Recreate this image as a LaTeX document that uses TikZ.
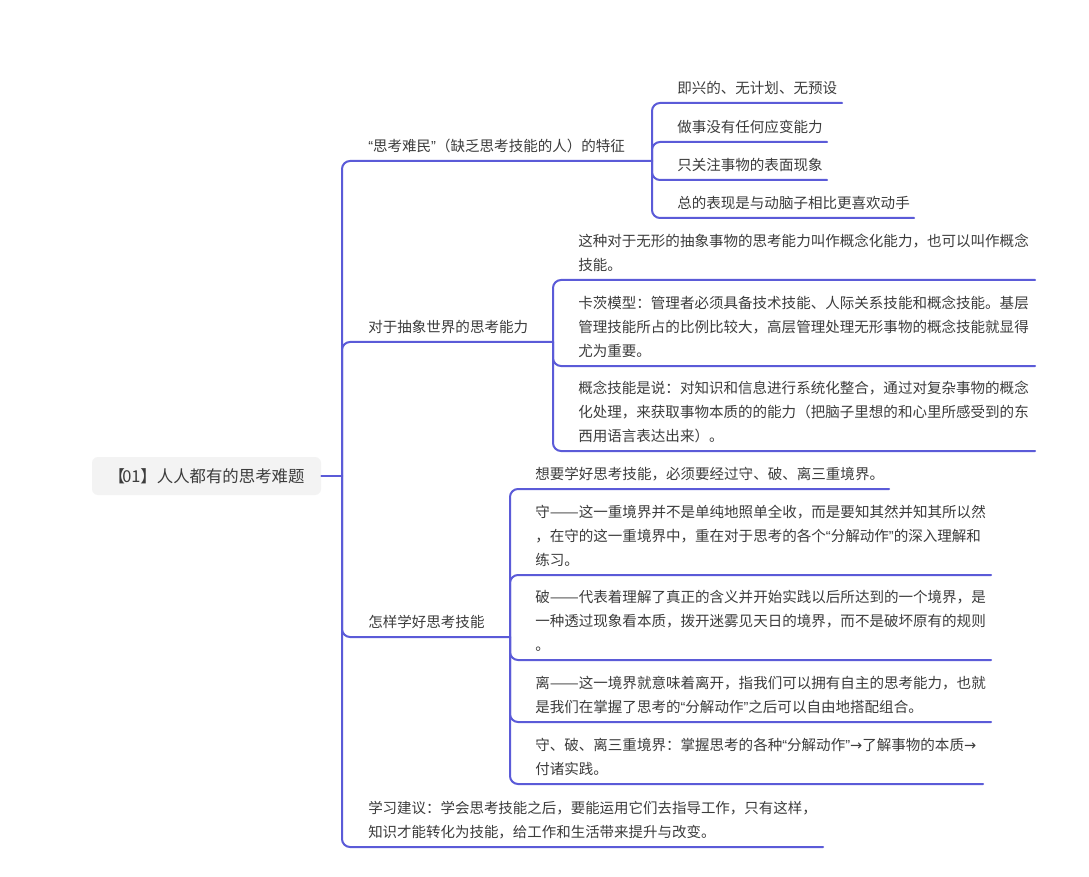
\documentclass[tikz,border=0pt]{standalone}
\usepackage{graphicx}
\usepackage{fontspec}
\setmainfont{Noto Sans CJK SC}
\newfontfamily\lat{Liberation Sans}
\newfontfamily\sym{DejaVu Sans}
\newcommand{\qo}{{\lat “}}
\newcommand{\qc}{{\lat ”}}
\newcommand{\arr}{{\sym →}}
\newcommand{\dashes}{\makebox[2em]{\scalebox{1.19}[1]{——}}}
\newcommand{\deep}{\rule[-7pt]{0pt}{0pt}}
\definecolor{linec}{HTML}{5B5BD8}
\definecolor{textc}{HTML}{3C3C3C}
\definecolor{rootfill}{HTML}{F3F3F3}
\tikzset{
  x=0.75pt,y=-0.75pt,
  leaftext/.style={anchor=south west,inner sep=0pt,align=left,text=textc,font=\fontsize{10.9}{18}\selectfont},
  smalltext/.style={leaftext,font=\fontsize{10.85}{18}\selectfont},
  rootnode/.style={fill=rootfill,rounded corners=4.5pt,minimum width=171.75pt,minimum height=28.5pt,inner sep=0pt,text=textc,font=\fontsize{12.3}{16}\selectfont},
  conn/.style={draw=linec,line width=1.5pt,rounded corners=6pt,line cap=round},
}
% \leaf[style]{name}{from}{text x}{y}{end x}{text}
\newcommand{\leaf}[7][leaftext]{%
  \node[#1] (#2) at (#4,#5) {#7\deep};
  \coordinate (#2-e) at (#6,#5);
  \draw[conn] (#3) |- (#2.south west) -- (#2-e);
}
\begin{document}
\begin{tikzpicture}
\useasboundingbox (0,0) rectangle (1089,877);
\fill[white] (0,0) rectangle (1089,877);
\node[rootnode] (root) at (206.5,476) {【\kern-2pt 01】人人都有的思考难题};
\coordinate (t) at (342,476);
\draw[conn] (root.east) -- (t);

\leaf{b1}{t}{368}{161}{652}{\qo 思考难民\qc（缺乏思考技能的人）的特征}
\leaf{b2}{t}{368}{342}{553}{对于抽象世界的思考能力}
\leaf{b3}{t}{368}{637}{510}{怎样学好思考技能}
\leaf[smalltext]{b4}{t}{368}{847}{823}{学习建议：学会思考技能之后，要能运用它们去指导工作，只有这样，\\知识才能转化为技能，给工作和生活带来提升与改变。}

\leaf{a1}{b1-e}{677}{103}{842}{即兴的、无计划、无预设}
\leaf{a2}{b1-e}{677}{142}{827}{做事没有任何应变能力}
\leaf{a3}{b1-e}{677}{180}{827}{只关注事物的表面现象}
\leaf{a4}{b1-e}{677}{218}{914}{总的表现是与动脑子相比更喜欢动手}

\leaf{c1}{b2-e}{578}{280}{1035}{这种对于无形的抽象事物的思考能力叫作概念化能力，也可以叫作概念\\技能。}
\leaf{c2}{b2-e}{578}{366}{1035}{卡茨模型：管理者必须具备技术技能、人际关系技能和概念技能。基层\\管理技能所占的比例比较大，高层管理处理无形事物的概念技能就显得\\尤为重要。}
\leaf{c3}{b2-e}{578}{451}{1035}{概念技能是说：对知识和信息进行系统化整合，通过对复杂事物的概念\\化处理，来获取事物本质的的能力（把脑子里想的和心里所感受到的东\\西用语言表达出来）。}

\leaf{d1}{b3-e}{535}{489}{889}{想要学好思考技能，必须要经过守、破、离三重境界。}
\leaf{d2}{b3-e}{535}{575}{991}{守\dashes 这一重境界并不是单纯地照单全收，而是要知其然并知其所以然\\，在守的这一重境界中，重在对于思考的各个\qo 分解动作\qc 的深入理解和\\练习。}
\leaf{d3}{b3-e}{535}{660}{991}{破\dashes 代表着理解了真正的含义并开始实践以后所达到的一个境界，是\\一种透过现象看本质，拨开迷雾见天日的境界，而不是破坏原有的规则\\。}
\leaf{d4}{b3-e}{535}{722}{991}{离\dashes 这一境界就意味着离开，指我们可以拥有自主的思考能力，也就\\是我们在掌握了思考的\qo 分解动作\qc 之后可以自由地搭配组合。}
\leaf{d5}{b3-e}{535}{784}{983}{守、破、离三重境界：掌握思考的各种\qo 分解动作\qc\arr 了解事物的本质\arr\\付诸实践。}
\end{tikzpicture}
\end{document}
